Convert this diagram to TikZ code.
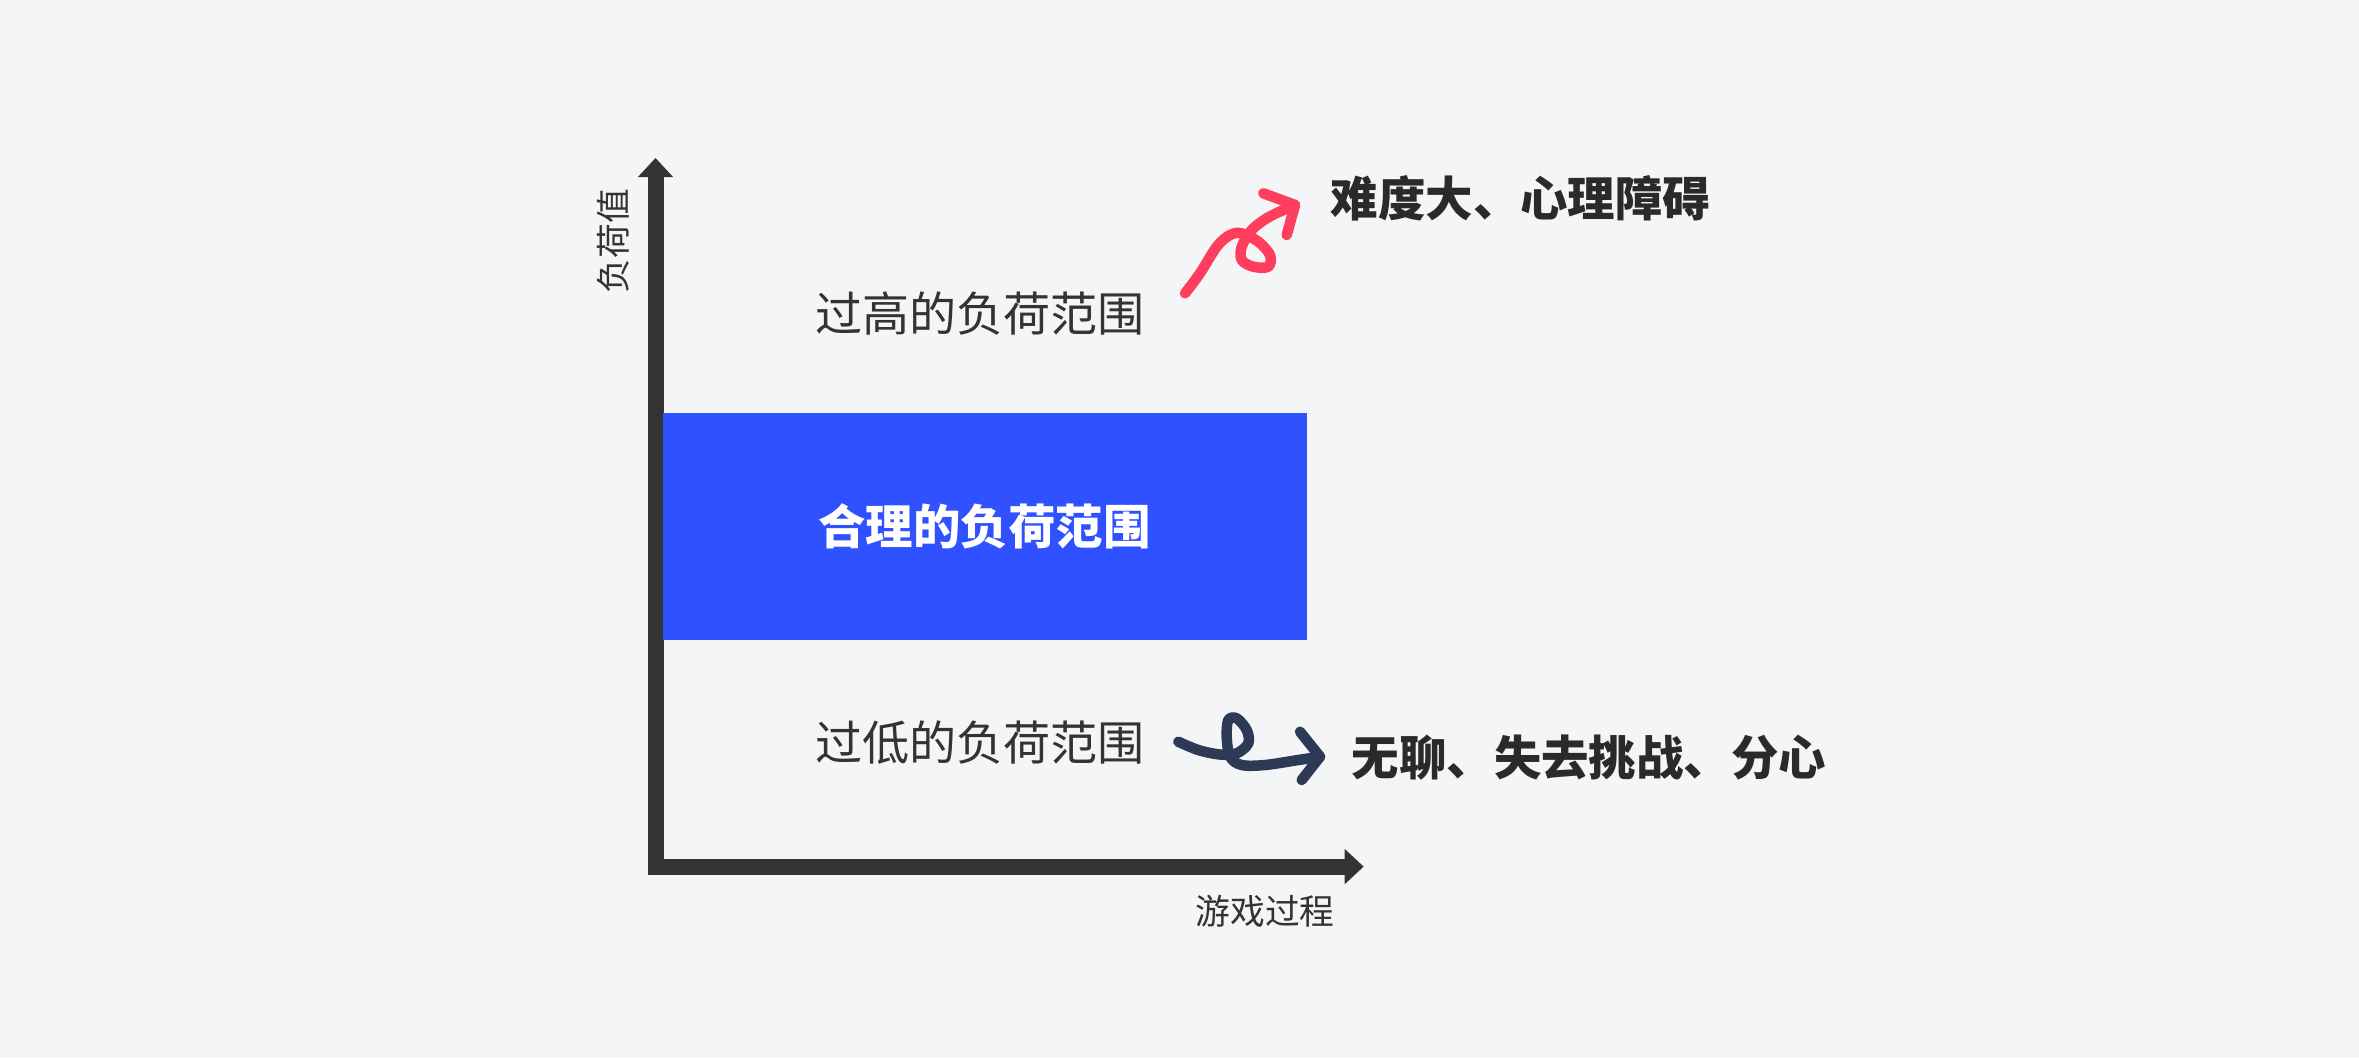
\documentclass[tikz,border=0pt]{standalone}
\usepackage{fontspec}
\setmainfont{Noto Sans CJK SC}
\usetikzlibrary{arrows.meta}
\definecolor{bgc}{HTML}{F4F5F7}
\definecolor{ink}{HTML}{333333}
\definecolor{inkd}{HTML}{2A2A2A}
\definecolor{blu}{HTML}{2F51FF}
\definecolor{rosa}{HTML}{FF3D5C}
\definecolor{navy}{HTML}{2D3A55}

\begin{document}
\begin{tikzpicture}[
  ax/.style={draw=ink, line width=1.6mm, line join=miter, >={Triangle[width=3.4mm,length=1.9mm]}},
  zona/.style={fill=blu, text=white, inner sep=0pt, font=\fontsize{13.5}{15}\selectfont\bfseries},
  lbl/.style={text=ink, inner sep=0pt, font=\fontsize{9.9}{12}\selectfont},
  txt/.style={text=ink, inner sep=0pt, font=\fontsize{13.4}{15}\selectfont},
  res/.style={text=inkd, inner sep=0pt, anchor=west, font=\fontsize{13.5}{15}\selectfont\bfseries},
  curl/.style={line width=1.05mm, line cap=round, line join=round},
]
  % fundo 23,59 x 10,58 · eixos com origem em (6,555;1,914)
  \fill[bgc] (0,0) rectangle (23.59,10.58);
  \useasboundingbox (0,0) rectangle (23.59,10.58);

  \coordinate (o) at (6.555,1.914);
  \coordinate (ytop) at (6.555,9.00);
  \coordinate (xend) at (13.637,1.914);
  \draw[ax, <->] (ytop) -- (o) -- (xend);

  \node[lbl, rotate=90] (ylab) at (6.13,8.17) {负荷值};
  \node[lbl] (xlab) at (12.65,1.465) {游戏过程};

  \node[zona, minimum width=6.44cm, minimum height=2.273cm] (ok) at (9.845,5.317) {合理的负荷范围};

  \node[txt] (alto) at (9.80,7.44) {过高的负荷范围};
  \node[txt] (baixo) at (9.80,3.155) {过低的负荷范围};

  \node[res] (dif) at (13.30,8.597) {难度大、心理障碍};
  \node[res] (tedio) at (13.51,3.00) {无聊、失去挑战、分心};

  % setas desenhadas à mão
  \coordinate (rtip) at (12.95,8.53);
  \draw[curl, draw=rosa] plot[smooth, tension=0.55] coordinates {
    (11.85,7.647) (12.00,7.847) (12.167,8.113) (12.30,8.23) (12.417,8.247)
    (12.583,8.163) (12.70,8.03) (12.683,7.913) (12.533,7.913) (12.417,7.98)
    (12.417,8.113) (12.517,8.28) (12.667,8.397) (12.833,8.48) (rtip)};
  \draw[curl, draw=rosa] (12.633,8.647) -- (rtip) -- (12.867,8.23);

  \coordinate (ntip) at (13.20,3.013);
  \draw[curl, draw=navy] plot[smooth, tension=0.55] coordinates {
    (11.783,3.163) (11.983,3.08) (12.20,3.035) (12.367,3.047) (12.483,3.147)
    (12.467,3.28) (12.367,3.397) (12.283,3.38) (12.267,3.213) (12.30,3.013)
    (12.417,2.93) (12.65,2.93) (12.983,2.98) (ntip)};
  \draw[curl, draw=navy] (13.00,3.263) -- (ntip) -- (13.017,2.78);
\end{tikzpicture}
\end{document}
